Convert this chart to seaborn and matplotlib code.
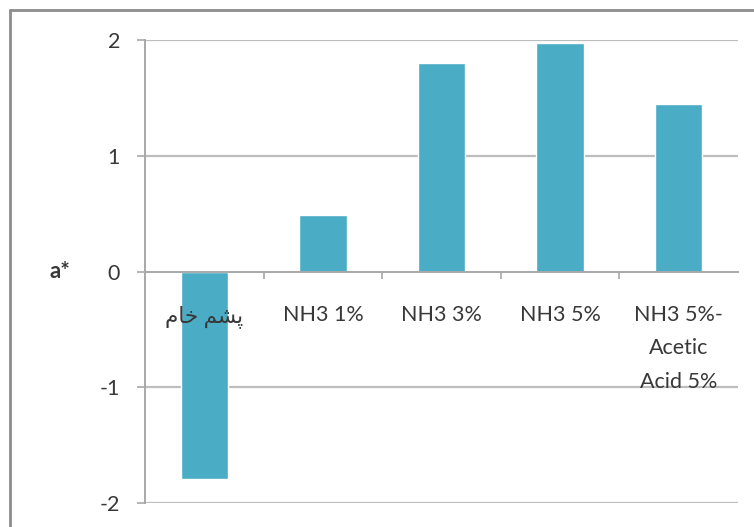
import matplotlib
matplotlib.use("Agg")
import matplotlib.pyplot as plt
from matplotlib.lines import Line2D
from matplotlib.ticker import FixedLocator
import seaborn as sns
import pandas as pd

# Persian label "raw wool", written in shaped presentation forms, visual order
raw_wool = "\uFEE1\uFE8E\uFEA7 \uFEE2\uFEB8\uFB58"
categories = [raw_wool, "NH3 1%", "NH3 3%", "NH3 5%", "NH3 5%-\nAcetic\nAcid 5%"]
a_star = [-1.79, 0.49, 1.80, 1.97, 1.45]
y_ticks = [-2, -1, 0, 1, 2]

sns.set_theme(style="white")
plt.rcParams["font.family"] = ["Lato", "DejaVu Sans"]
plt.rcParams["axes.unicode_minus"] = False

text_color = "#383838"
grid_color = "#bdbdbd"
axis_color = "#a8a8a8"
bar_color = "#4bacc6"

df = pd.DataFrame({"sample": categories, "a": a_star})

fig = plt.figure(figsize=(7.54, 5.27), dpi=100)
ax = fig.add_axes([145 / 754, 24 / 527, 593 / 754, 463 / 527])

sns.barplot(data=df, x="sample", y="a", color=bar_color, width=0.4,
            saturation=1, ax=ax, zorder=1)

ax.set_axisbelow(False)
ax.grid(False)
for yv in y_ticks:
    if yv != 0:
        ax.axhline(yv, color=grid_color, lw=1.6, zorder=0.5)

ax.set_ylim(-2, 2)
ax.set_xlim(-0.5, len(categories) - 0.5)
ax.set_yticks(y_ticks)
ax.set_yticklabels([str(v) for v in y_ticks])

# x axis sits on zero
for s in ["top", "right"]:
    ax.spines[s].set_visible(False)
ax.spines["bottom"].set_position(("data", 0))
ax.spines["bottom"].set_color(axis_color)
ax.spines["bottom"].set_linewidth(1.4)
ax.spines["left"].set_color(axis_color)
ax.spines["left"].set_linewidth(1.4)

ax.tick_params(axis="y", which="major", direction="out", length=6, width=1.2,
               color=axis_color, pad=12, labelsize=15.5, labelcolor=text_color, left=True)
ax.set_xticks(range(len(categories)))
ax.set_xticklabels(categories, linespacing=1.85)
ax.tick_params(axis="x", which="major", length=0, pad=24, labelsize=15.5,
               labelcolor=text_color)
ax.xaxis.set_minor_locator(FixedLocator([i - 0.5 for i in range(1, len(categories))]))
ax.tick_params(axis="x", which="minor", direction="out", length=5, width=1.2,
               color=axis_color, bottom=True)
for lbl in ax.get_xticklabels():
    lbl.set_verticalalignment("top")

ax.set_xlabel("")
ax.set_ylabel("a*", rotation=0, fontsize=16, fontweight="bold", color=text_color,
              ha="center", va="center")
ax.yaxis.set_label_coords(-0.143, 0.5)

# chart frame
fig.add_artist(Line2D([10 / 754, 10 / 754], [0, 1 - 10 / 527], transform=fig.transFigure,
                      color="#8c8c8c", lw=2))
fig.add_artist(Line2D([10 / 754, 1], [1 - 10 / 527, 1 - 10 / 527], transform=fig.transFigure,
                      color="#8c8c8c", lw=2))

fig.savefig("out.png", dpi=100, facecolor="white")
